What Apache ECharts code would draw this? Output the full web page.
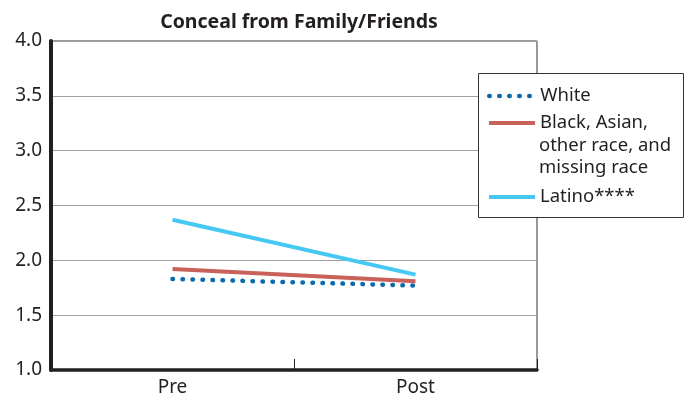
<!DOCTYPE html>
<html>
<head>
<meta charset="utf-8">
<script src="https://cdn.jsdelivr.net/npm/echarts@6/dist/echarts.min.js"></script>
<style>html,body{margin:0;padding:0;background:#fff}#c{width:691px;height:402px}</style>
</head>
<body>
<div id="c"></div>
<script>
var categories = ['Pre', 'Post'];
var whiteVals = [1.83, 1.77];
var blackVals = [1.92, 1.81];
var latinoVals = [2.37, 1.87];
var yTicks = [1.0, 1.5, 2.0, 2.5, 3.0, 3.5, 4.0];
var seriesNames = ['White', 'Black, Asian,', 'Latino****'];
var blackExtraLines = ['other race, and', 'missing race'];

var FONT = 'Noto Sans';
var TXT = '#231f20';
var LFS = 18.5;
var dotted = { width: 4.5, type: [0.5, 9.5], cap: 'round' };
var solid = { width: 4, type: 'solid' };
var chart = echarts.init(document.getElementById('c'));
function legendAt(name, top, ls) {
  return {
    data: [name], orient: 'vertical', left: 487, top: top, padding: 0,
    itemWidth: 46, itemHeight: 14, selectedMode: false, z: 20,
    itemStyle: { opacity: 0 },
    lineStyle: ls,
    textStyle: { fontFamily: FONT, fontSize: LFS, color: TXT, lineHeight: 22 }
  };
}
chart.setOption({
  animation: false,
  title: {
    text: 'Conceal from Family/Friends', left: 294, top: 7, textAlign: 'center',
    textStyle: { fontFamily: FONT, fontSize: 19.5, fontWeight: 'bold', color: TXT }
  },
  grid: { left: 51, right: 154, top: 41, bottom: 32, show: true, borderColor: '#333', borderWidth: 1 },
  legend: [legendAt(seriesNames[0], 85, dotted), legendAt(seriesNames[1], 112, solid), legendAt(seriesNames[2], 186, solid)],
  graphic: [
    { type: 'rect', shape: { x: 478.5, y: 73.5, width: 205, height: 144 }, style: { fill: '#fff', stroke: '#333', lineWidth: 1 }, z: 10 },
    { type: 'text', x: 539, y: 146, z: 20, style: { text: blackExtraLines[0], font: LFS + 'px "Noto Sans"', fill: TXT, verticalAlign: 'middle' } },
    { type: 'text', x: 539, y: 168, z: 20, style: { text: blackExtraLines[1], font: LFS + 'px "Noto Sans"', fill: TXT, verticalAlign: 'middle' } }
  ],
  xAxis: {
    type: 'category', data: categories, boundaryGap: true,
    axisLine: { lineStyle: { color: '#231f20', width: 3.5 } },
    axisTick: { show: true, inside: true, length: 11, lineStyle: { color: '#231f20', width: 1 } },
    axisLabel: { fontFamily: FONT, fontSize: 19, color: TXT, margin: 8 }
  },
  yAxis: {
    type: 'value', min: yTicks[0], max: yTicks[yTicks.length - 1], interval: 0.5,
    axisLine: { show: true, lineStyle: { color: '#231f20', width: 4 } },
    axisTick: { show: false },
    splitLine: { lineStyle: { color: '#a0a0a0', width: 1 } },
    axisLabel: { fontFamily: FONT, fontSize: 19, color: TXT, margin: 9, formatter: function (v) { return v.toFixed(1); } }
  },
  series: [
    { name: seriesNames[0], type: 'line', data: whiteVals, symbol: 'none', z: 3,
      color: '#0b6aa9', lineStyle: { color: '#0b6aa9', width: 4.5, type: [0.5, 9.5], cap: 'round' } },
    { name: seriesNames[1], type: 'line', data: blackVals, symbol: 'none', z: 4,
      color: '#c9615b', lineStyle: { color: '#c9615b', width: 4 } },
    { name: seriesNames[2], type: 'line', data: latinoVals, symbol: 'none', z: 5,
      color: '#45c8f2', lineStyle: { color: '#45c8f2', width: 4 } }
  ]
});
</script>
</body>
</html>
